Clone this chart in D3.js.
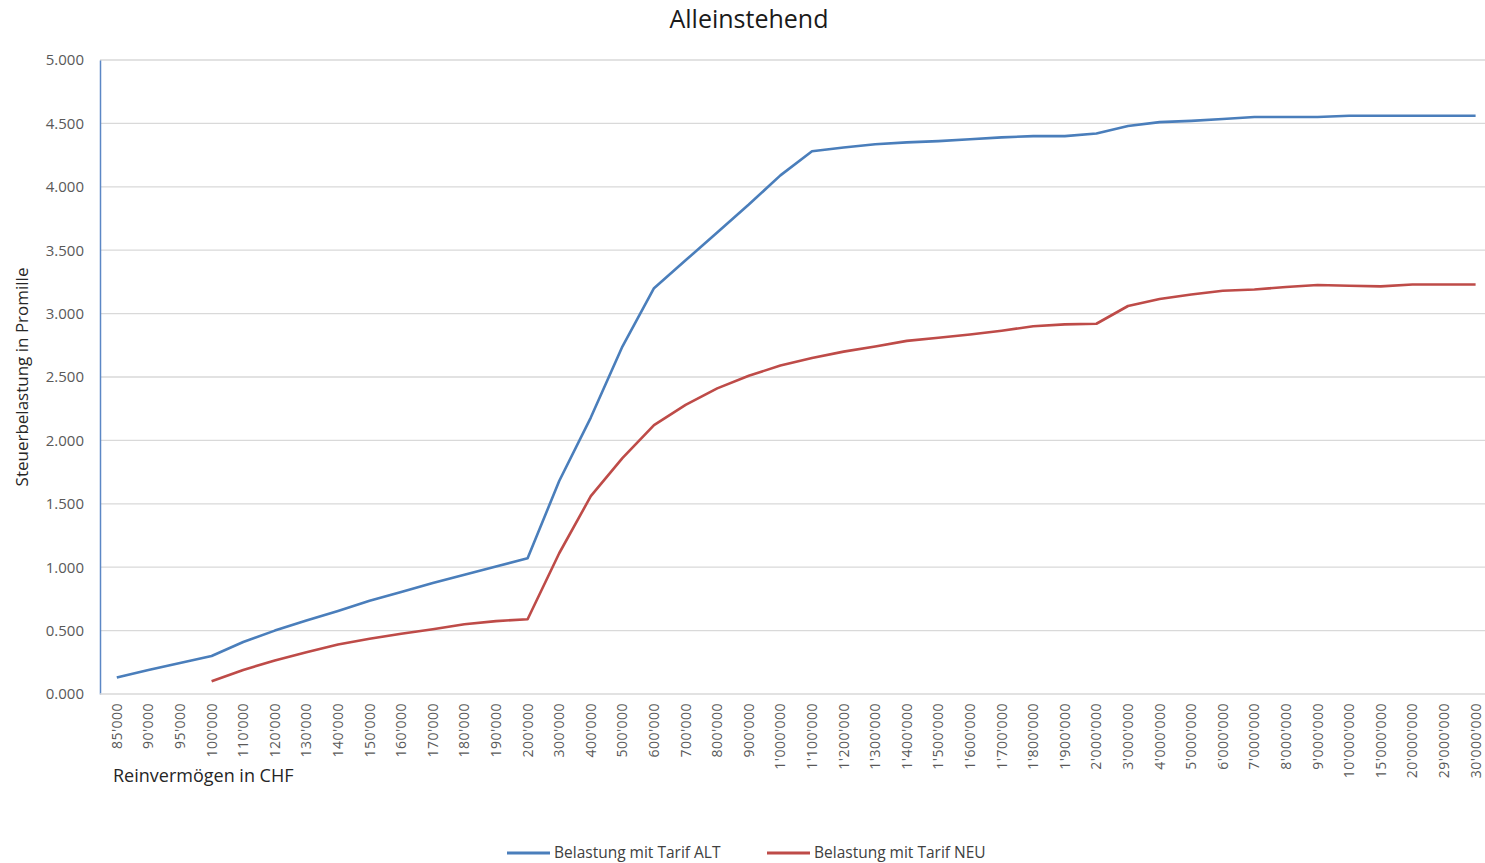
<!DOCTYPE html>
<html>
<head>
<meta charset="utf-8">
<script src="https://cdn.jsdelivr.net/npm/d3@7"></script>
<style>
  html, body { margin: 0; padding: 0; background: #fff; }
  svg { display: block; font-family: "Open Sans", "Noto Sans", sans-serif; }
</style>
</head>
<body>
<svg id="chart" width="1485" height="863"></svg>
<script>
// Net wealth categories (CHF)
const categories = [
  "85'000", "90'000", "95'000", "100'000", "110'000", "120'000", "130'000",
  "140'000", "150'000", "160'000", "170'000", "180'000", "190'000", "200'000",
  "300'000", "400'000", "500'000", "600'000", "700'000", "800'000", "900'000",
  "1'000'000", "1'100'000", "1'200'000", "1'300'000", "1'400'000", "1'500'000",
  "1'600'000", "1'700'000", "1'800'000", "1'900'000", "2'000'000", "3'000'000",
  "4'000'000", "5'000'000", "6'000'000", "7'000'000", "8'000'000", "9'000'000",
  "10'000'000", "15'000'000", "20'000'000", "29'000'000", "30'000'000"
];

// Tax burden in per mille, old tariff
const tarifAlt = [
  0.13, 0.19, 0.245, 0.30, 0.41, 0.50, 0.58,
  0.655, 0.735, 0.805, 0.875, 0.94, 1.005, 1.07,
  1.68, 2.18, 2.74, 3.20, 3.42, 3.64, 3.86,
  4.09, 4.28, 4.31, 4.335, 4.35, 4.36,
  4.375, 4.39, 4.40, 4.40, 4.42, 4.48,
  4.51, 4.52, 4.535, 4.55, 4.55, 4.55,
  4.56, 4.56, 4.56, 4.56, 4.56
];

// Tax burden in per mille, new tariff (no values below 100'000)
const tarifNeu = [
  null, null, null, 0.10, 0.19, 0.265, 0.33,
  0.39, 0.435, 0.475, 0.51, 0.55, 0.575, 0.59,
  1.11, 1.56, 1.86, 2.12, 2.28, 2.41, 2.51,
  2.59, 2.65, 2.70, 2.74, 2.785, 2.81,
  2.835, 2.865, 2.90, 2.915, 2.92, 3.06,
  3.115, 3.15, 3.18, 3.19, 3.21, 3.225,
  3.22, 3.215, 3.23, 3.23, 3.23
];

const yTicks = [0, 0.5, 1, 1.5, 2, 2.5, 3, 3.5, 4, 4.5, 5];

const seriesNames = ["Belastung mit Tarif ALT", "Belastung mit Tarif NEU"];
const seriesColors = ["#4a7ebb", "#be4b48"];

const svg = d3.select("#chart");
const W = 1485;
const plotLeft = 100, plotTop = 60, plotBottom = 694;

// Category band slightly overruns the right edge of the canvas
const x = d3.scaleBand().domain(categories).range([plotLeft + 1, plotLeft + 1 + 44 * 31.6]);
const y = d3.scaleLinear().domain([0, 5]).range([plotBottom, plotTop]);

// Title
svg.append("text")
  .attr("x", 749).attr("y", 28)
  .attr("text-anchor", "middle")
  .attr("font-size", 25)
  .attr("fill", "#1a1a1a")
  .text("Alleinstehend");

// Horizontal gridlines
svg.append("g")
  .selectAll("line")
  .data(yTicks.filter(d => d > 0))
  .join("line")
  .attr("x1", plotLeft).attr("x2", W)
  .attr("y1", d => y(d)).attr("y2", d => y(d))
  .attr("stroke", "#d9d9d9").attr("stroke-width", 1.3);

// Y axis
const yAxis = svg.append("g")
  .attr("transform", `translate(${plotLeft},0)`)
  .call(d3.axisLeft(y).tickValues(yTicks).tickSize(0).tickPadding(16)
    .tickFormat(d => d3.format(".3f")(d)));
yAxis.select(".domain").attr("stroke", "#5b87c5").attr("stroke-width", 1.5);
yAxis.selectAll("text").attr("font-size", 15).attr("fill", "#595959")
  .attr("font-family", "'Open Sans', sans-serif");

// X axis
const xAxis = svg.append("g")
  .attr("transform", `translate(0,${plotBottom})`)
  .call(d3.axisBottom(x).tickSize(0).tickPadding(0));
xAxis.select(".domain").attr("stroke", "#d9d9d9").attr("stroke-width", 1.3)
  .attr("d", `M${plotLeft},0H${W}`);
xAxis.selectAll("text")
  .attr("font-size", 14).attr("fill", "#595959")
  .attr("font-family", "'Open Sans', sans-serif")
  .attr("text-anchor", "end")
  .attr("dy", "0.35em")
  .attr("letter-spacing", "0.5")
  .attr("transform", "translate(0,9) rotate(-90)")
  .attr("x", 0).attr("y", 0);

// Axis titles
svg.append("text")
  .attr("transform", "translate(28,377) rotate(-90)")
  .attr("text-anchor", "middle")
  .attr("font-size", 17)
  .attr("fill", "#262626")
  .text("Steuerbelastung in Promille");

svg.append("text")
  .attr("x", 113).attr("y", 782)
  .attr("font-size", 18)
  .attr("fill", "#262626")
  .text("Reinvermögen in CHF");

// Lines
const line = d3.line()
  .defined(d => d.v !== null)
  .x(d => x(d.c) + x.bandwidth() / 2)
  .y(d => y(d.v));

[tarifAlt, tarifNeu].forEach((vals, i) => {
  const pts = categories.map((c, j) => ({ c, v: vals[j] }));
  svg.append("path")
    .datum(pts)
    .attr("d", line)
    .attr("fill", "none")
    .attr("stroke", seriesColors[i])
    .attr("stroke-width", 2.6)
    .attr("stroke-linejoin", "round");
});

// Legend
const legendItems = [
  { x: 507, name: seriesNames[0], color: seriesColors[0] },
  { x: 767, name: seriesNames[1], color: seriesColors[1] }
];
const lg = svg.append("g");
legendItems.forEach(it => {
  lg.append("line")
    .attr("x1", it.x).attr("x2", it.x + 43)
    .attr("y1", 853).attr("y2", 853)
    .attr("stroke", it.color).attr("stroke-width", 3);
  lg.append("text")
    .attr("x", it.x + 47).attr("y", 858)
    .attr("font-size", 15.5).attr("fill", "#404040")
    .text(it.name);
});
</script>
</body>
</html>
